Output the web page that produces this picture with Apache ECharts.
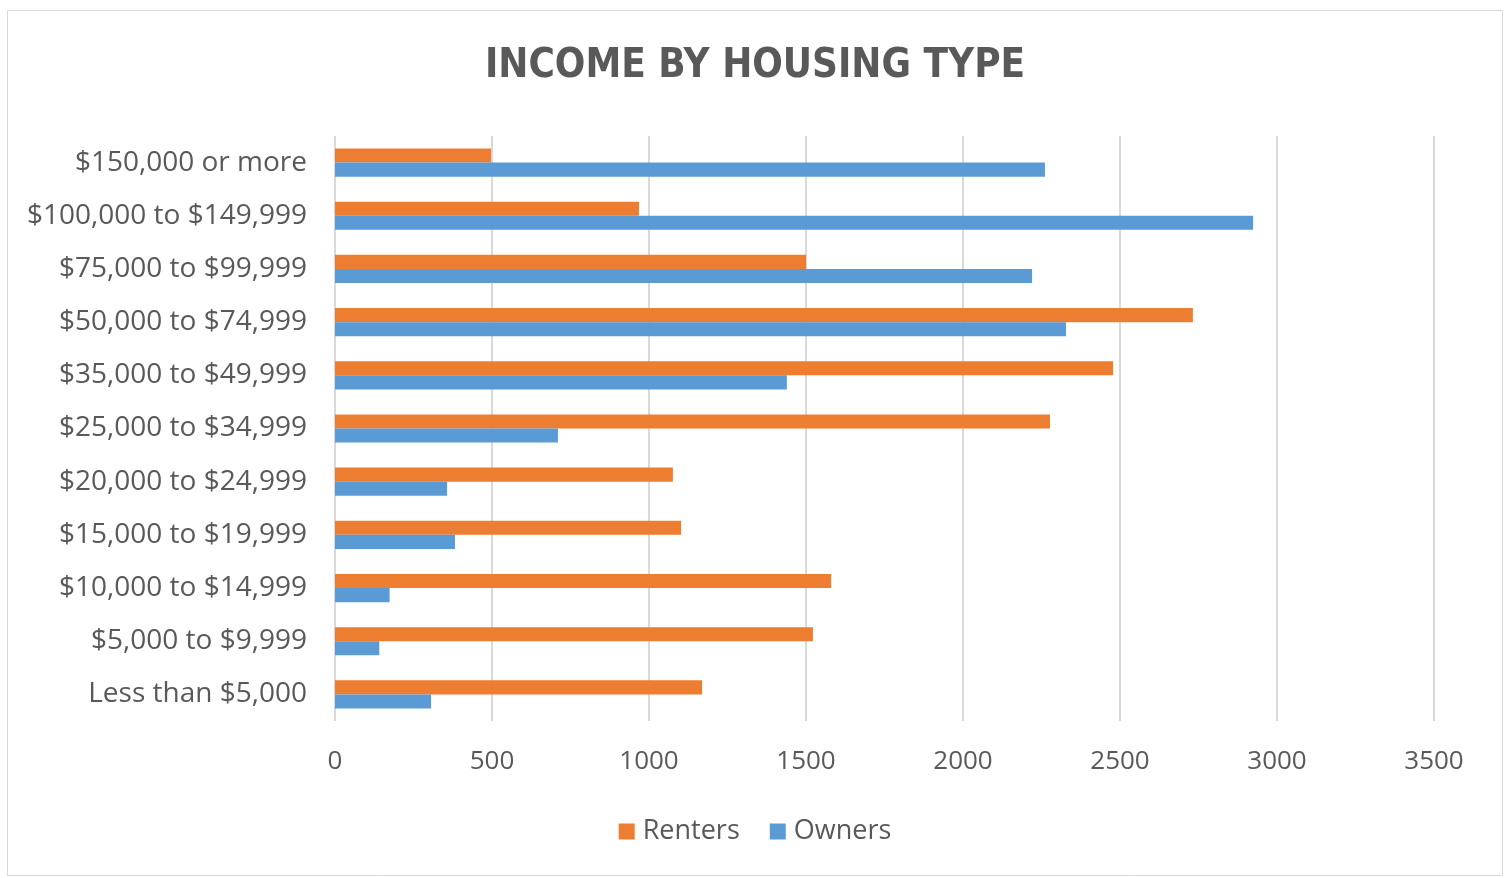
<!DOCTYPE html>
<html><head><meta charset="utf-8">
<script src="https://cdn.jsdelivr.net/npm/echarts@6/dist/echarts.min.js"></script>
<style>html,body{margin:0;padding:0;background:#fff}#c{width:1510px;height:878px}</style>
</head><body><div id="c"></div>
<script>
const categories = ["Less than $5,000","$5,000 to $9,999","$10,000 to $14,999","$15,000 to $19,999","$20,000 to $24,999","$25,000 to $34,999","$35,000 to $49,999","$50,000 to $74,999","$75,000 to $99,999","$100,000 to $149,999","$150,000 or more"];
const renters = [1169,1522,1580,1102,1076,2277,2478,2732,1500,968,497];
const owners = [306,141,174,382,357,710,1439,2328,2220,2924,2261];
const xTicks = {min:0,max:3500,interval:500};

const chart = echarts.init(document.getElementById('c'), null, {renderer:'canvas'});
const txt = '#595959';
const ff = "'Open Sans',sans-serif";
chart.setOption({
  animation:false,
  graphic:[{type:'rect',shape:{x:7.5,y:10.5,width:1495,height:865},style:{fill:'none',stroke:'#d9d9d9',lineWidth:1}}],
  title:{text:'INCOME BY HOUSING TYPE',left:'center',top:42,
    textStyle:{color:txt,fontSize:40,fontWeight:'bold',fontFamily:"'Liberation Sans Narrow','DejaVu Sans Condensed','Open Sans',sans-serif"}},
  legend:{data:['Renters','Owners'],bottom:28,left:'center',itemWidth:16,itemHeight:16,itemGap:30,icon:'rect',
    textStyle:{color:txt,fontSize:27,fontFamily:ff,padding:[0,0,0,3]}},
  grid:{left:335,top:136,width:1099,height:585,containLabel:false},
  xAxis:{type:'value',min:xTicks.min,max:xTicks.max,interval:xTicks.interval,
    axisLine:{show:false},axisTick:{show:false},
    splitLine:{show:true,lineStyle:{color:'#d9d9d9',width:2}},
    axisLabel:{color:txt,fontSize:26,margin:28,fontFamily:ff,formatter:v=>String(v)}},
  yAxis:{type:'category',data:categories,
    axisLine:{show:false},axisTick:{show:false},
    axisLabel:{color:txt,fontSize:28,margin:28,fontFamily:ff}},
  series:[
    {name:'Renters',type:'bar',data:renters,barGap:'0%',barCategoryGap:'47%',itemStyle:{color:'#ed7d31'}},
    {name:'Owners',type:'bar',data:owners,barGap:'0%',barCategoryGap:'47%',itemStyle:{color:'#5b9bd5'}}
  ]
});
</script></body></html>
